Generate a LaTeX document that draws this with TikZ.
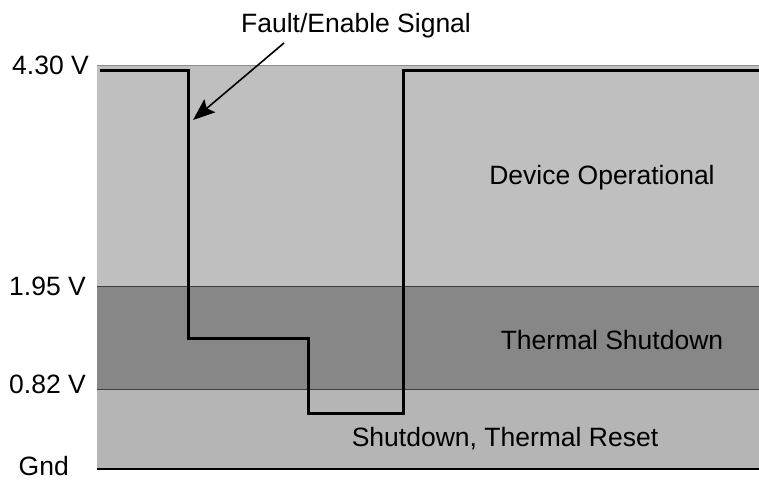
\documentclass[tikz,border=0pt]{standalone}
\usepackage{fontspec}
\setmainfont{Liberation Sans}
\usetikzlibrary{arrows.meta}
\definecolor{opgray}{gray}{0.75}
\definecolor{shdgray}{gray}{0.53}
\definecolor{rstgray}{gray}{0.71}
\def\xleft{97}
\def\xright{759}

\begin{document}
\begin{tikzpicture}[x=1pt, y=-1pt, line cap=butt, line join=miter,
	font=\fontsize{26.5}{30}\selectfont,
	level/.style={anchor=base east, inner sep=0pt},
	region/.style={anchor=base, inner sep=0pt},
	border/.style={draw=black!75, line width=0.8pt}]
		\useasboundingbox (0,0) rectangle (759,481);
		
		%Coordinates
		\coordinate (tail) at (284,43);
		\coordinate (tip) at (193,120);
		
		%Bands
		\fill[opgray] (\xleft,65) rectangle (\xright,286);
		\fill[shdgray] (\xleft,286) rectangle (\xright,389);
		\fill[rstgray] (\xleft,389) rectangle (\xright,469);
		
		%Lines
		\draw[draw=black!45, line width=0.8pt] (\xleft,65) -- (\xright,65);
		\draw[border] (\xleft,286) -- (\xright,286);
		\draw[border] (\xleft,389) -- (\xright,389);
		\draw[line width=2.2pt] (\xleft,469) -- (\xright,469);
		
		%Signal
		\draw[line width=3pt] (100,70.5) -| (188,338) -| (308,413) -| (403,70.5) -- (\xright,70.5);
		
		%Nodes
		\node[level] (v430) at (89,75) {4.30 V};
		\node[level] (v195) at (86,295) {1.95 V};
		\node[level] (v082) at (86,393) {0.82 V};
		\node[level] (gnd) at (69,475) {Gnd};
		\node[region] (sig) at (356,33) {Fault/Enable Signal};
		\node[region] (oper) at (602,184) {Device Operational};
		\node[region] (tsd) at (612,349) {Thermal Shutdown};
		\node[region] (trst) at (505,446) {Shutdown, Thermal Reset};
		
		%Arrow
		\draw[line width=1.6pt, -{Stealth[length=22pt, width=17pt, inset=4pt]}] (tail) -- (tip);
		
	\end{tikzpicture}
\end{document}
